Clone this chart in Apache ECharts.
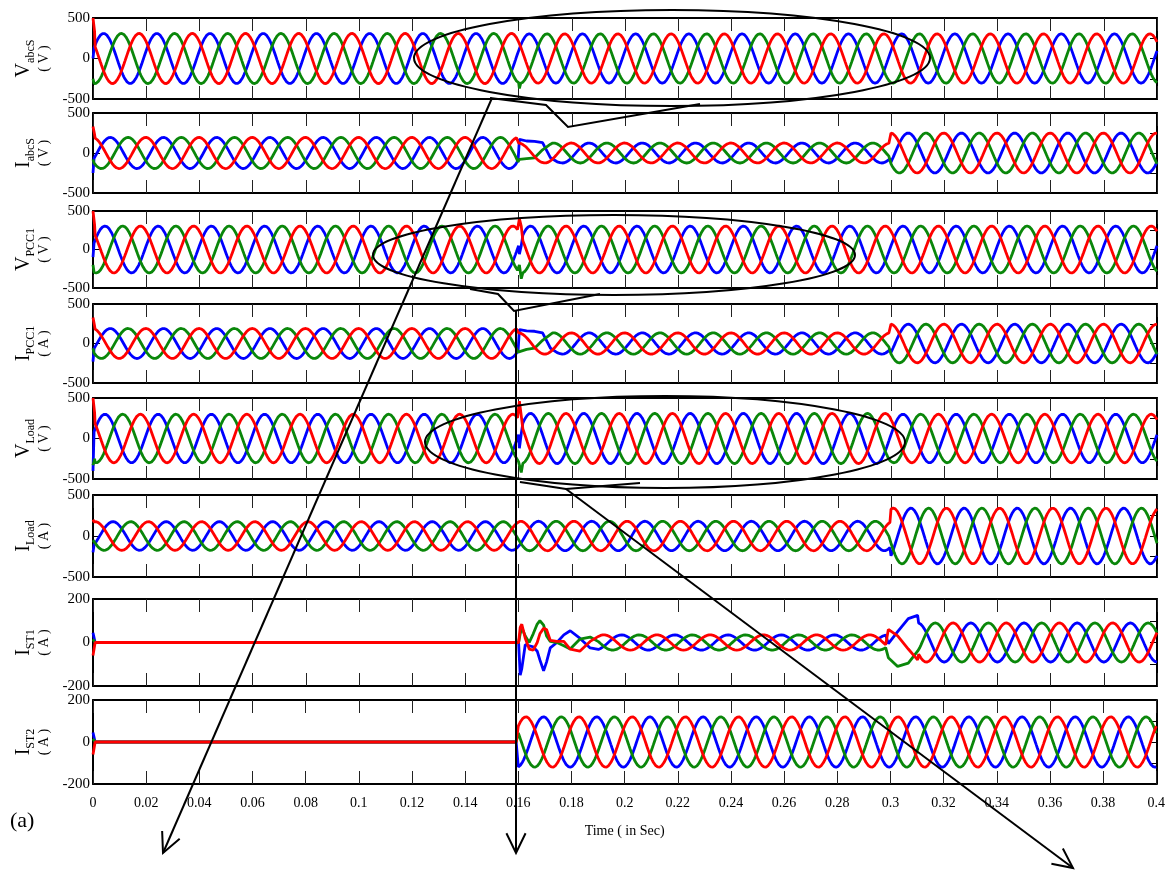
<!DOCTYPE html>
<html>
<head>
<meta charset="utf-8">
<script src="https://cdn.jsdelivr.net/npm/echarts@6/dist/echarts.min.js"></script>
<style>
  html, body { margin: 0; padding: 0; background: #fff; }
  #main { width: 1168px; height: 873px; }
</style>
</head>
<body>
<div id="main"></div>
<script>
// panel labels
var panelSymbol = ["V", "I", "V", "I", "V", "I", "I", "I"];
var panelSub = ["abcS", "abcS", "PCC1", "PCC1", "Load", "Load", "ST1", "ST2"];
var panelUnit = ["V", "V", "V", "A", "V", "A", "A", "A"];
var panelLimit = [500, 500, 500, 500, 500, 500, 200, 200];

// operating intervals (s): start of each segment
var segStart = [0, 0.16, 0.3];
var freq = 50;

// peak amplitude of each segment, and time of the phase-a (blue) peak
var ampVabcS = [310, 305, 305];
var peakVabcS = [0.004, 0.004, 0.004];
var ampIabcS = [195, 125, 250];
var peakIabcS = [0.0065, 0.0065, 0.0065];
var ampVpcc1 = [305, 305, 305];
var peakVpcc1 = [0.0045, 0.0045, 0.0045];
var ampIpcc1 = [190, 135, 245];
var peakIpcc1 = [0.0065, 0.0065, 0.0065];
var ampVload = [300, 310, 300];
var peakVload = [0.0045, 0.0045, 0.0045];
var ampIload = [175, 180, 340];
var peakIload = [0.0075, 0.0075, 0.0075];
var ampIst1 = [0, 35, 90];
var peakIst1 = [0, 0.0187, 0.01];
var ampIst2 = [0, 120, 120];
var peakIst2 = [0, 0.0095, 0.0095];

// transient samples: [t, a(blue), b(green), c(red)], null = steady wave
var trVabcS = [[0, 0, -250, 500], [0.0006, null, null, 330], [0.1603, null, -370, null]];
var trIabcS = [
  [0, -250, -80, 330], [0.0006, null, null, 230],
  [0.1598, -95, -110, null], [0.1603, 170, -80, null], [0.1630, 150, -70, null],
  [0.1660, 145, -60, null], [0.1690, 130, 40, null], [0.1720, -60, 110, null], [0.1745, -110, null, null]
];
var trVpcc1 = [[0, -100, -200, 500], [0.0006, null, null, 320], [0.1603, -60, -200, 400], [0.1610, 50, -380, 300]];
var trIpcc1 = [
  [0, -230, -60, 330], [0.0006, null, null, 220],
  [0.1598, -95, -110, null], [0.1603, 175, -90, null], [0.1630, 160, -75, null],
  [0.1660, 155, -60, null], [0.1690, 135, 40, null], [0.1720, -60, 115, null], [0.1745, -115, null, null]
];
var trVload = [[0, -400, -330, 500], [0.0006, null, -250, 320], [0.1603, -120, -300, 460], [0.1610, 60, -420, 280]];
var trIload = [[0, -200, -50, 200]];
var trIst1 = [
  [0, 45, 15, -60], [0.0008, 0, 0, 0],
  [0.1600, 0, 0, 0], [0.1606, -150, 40, 70], [0.1612, -120, 69, 84], [0.1625, -10, 30, 20],
  [0.1640, -15, 0, -30], [0.1655, -20, 40, -35], [0.1670, -40, 85, 0], [0.1680, -80, 100, 40],
  [0.1694, -130, 80, 65], [0.1705, -90, 30, 60], [0.1719, -25, 5, 10], [0.1744, 0, 0, 5],
  [0.1770, 35, -15, 5], [0.1794, 54, -30, -30], [0.1830, 20, 15, -40], [0.1869, -25, 25, 5],
  [0.1900, -32, 4, 28],
  [0.2990, -5, -70, 60], [0.3025, 50, -110, 30], [0.3065, 110, -95, -30], [0.3100, 125, -40, -80]
];
var trIst2 = [[0, 45, 15, -60], [0.0008, 0, 0, 0]];

var ampList = [ampVabcS, ampIabcS, ampVpcc1, ampIpcc1, ampVload, ampIload, ampIst1, ampIst2];
var peakList = [peakVabcS, peakIabcS, peakVpcc1, peakIpcc1, peakVload, peakIload, peakIst1, peakIst2];
var trList = [trVabcS, trIabcS, trVpcc1, trIpcc1, trVload, trIload, trIst1, trIst2];

// layout of the 8 stacked panels (px)
var panelTop = [18, 113, 211, 304, 398, 495, 599, 700];
var panelBottom = [99, 193, 288, 383, 479, 577, 686, 784];

var phaseColor = ["#0000ff", "#0a870a", "#ff0000"];
var serif = "Liberation Serif";

function steady(p, ph, t) {
  var s = 0;
  for (var k = 0; k < segStart.length; k++) if (t >= segStart[k] - 1e-9) s = k;
  var tp = peakList[p][s] + ph * (1 / freq) / 3;
  return ampList[p][s] * Math.cos(2 * Math.PI * freq * (t - tp));
}

function trace(p, ph) {
  // rows given for this phase
  var rows = trList[p].filter(function (r) { return r[1 + ph] !== null; })
    .map(function (r) { return [r[0], r[1 + ph]]; });
  // steady samples that fall between close transient rows are replaced
  var windows = [];
  rows.forEach(function (r, i) {
    if (i > 0 && r[0] - rows[i - 1][0] < 0.006) windows[windows.length - 1][1] = r[0];
    else windows.push([r[0], r[0]]);
  });
  var pts = [];
  for (var k = 0; k <= 1000; k++) {
    var t = k * 0.0004;
    var inside = windows.some(function (w) { return t >= w[0] - 2e-4 && t <= w[1] + 2e-4; });
    if (!inside) pts.push([t, steady(p, ph, t)]);
  }
  pts = pts.concat(rows);
  pts.sort(function (a, b) { return a[0] - b[0]; });
  return pts;
}

var grids = [], xAxes = [], yAxes = [], series = [];
for (var p = 0; p < 8; p++) {
  var last = p === 7;
  grids.push({ left: 93, right: 11, top: panelTop[p], height: panelBottom[p] - panelTop[p] });
  var xBase = {
    gridIndex: p, type: "value", min: 0, max: 0.4, interval: 0.02,
    axisLine: { show: true, onZero: false, lineStyle: { color: "#000", width: 2 } },
    axisTick: { show: true, inside: true, length: 13, lineStyle: { color: "#222", width: 1 } },
    splitLine: { show: false }
  };
  xAxes.push(Object.assign({}, xBase, {
    position: "bottom",
    axisLabel: {
      show: last, color: "#000", fontFamily: serif, fontSize: 14, margin: 12, hideOverlap: false,
      formatter: function (v) { return String(+v.toFixed(2)); }
    },
    name: last ? "Time ( in Sec)" : "", nameLocation: "middle", nameGap: 40,
    nameTextStyle: { color: "#000", fontFamily: serif, fontSize: 14 }
  }));
  xAxes.push(Object.assign({}, xBase, { position: "top", axisLabel: { show: false } }));
  var lim = panelLimit[p];
  yAxes.push({
    gridIndex: p, type: "value", min: -lim, max: lim, interval: lim, position: "left",
    axisLine: { show: true, onZero: false, lineStyle: { color: "#000", width: 2 } },
    axisTick: { show: true, inside: true, length: 7, lineStyle: { color: "#000" } },
    axisLabel: { color: "#000", fontFamily: serif, fontSize: 15, margin: 3, showMinLabel: true, showMaxLabel: true },
    splitLine: { show: false },
    name: "{m|" + panelSymbol[p] + "}{s|" + panelSub[p] + "}\n{u|( " + panelUnit[p] + " )}",
    nameLocation: "middle", nameRotate: 90, nameGap: 32,
    nameTextStyle: {
      rich: {
        m: { fontFamily: serif, fontSize: 20, color: "#000", lineHeight: 22 },
        s: { fontFamily: serif, fontSize: 12, color: "#000", lineHeight: 22, verticalAlign: "bottom", padding: [0, 0, -2, 0] },
        u: { fontFamily: serif, fontSize: 14, color: "#000", lineHeight: 20 }
      }
    }
  });
  yAxes.push({
    gridIndex: p, type: "value", min: -lim, max: lim, interval: lim / 2, position: "right",
    axisLine: { show: true, onZero: false, lineStyle: { color: "#000", width: 2 } },
    axisTick: { show: true, inside: true, length: 7, lineStyle: { color: "#000" } },
    axisLabel: { show: false },
    splitLine: { show: false }
  });
  for (var ph = 0; ph < 3; ph++) {
    series.push({
      type: "line", xAxisIndex: 2 * p, yAxisIndex: 2 * p, data: trace(p, ph),
      showSymbol: false, symbol: "none", silent: true,
      lineStyle: { color: phaseColor[ph], width: 2.8 }, z: 2 + ph
    });
  }
}

function arrow(x1, y1, x2, y2) {
  var a = Math.atan2(y2 - y1, x2 - x1), L = 22, w = 0.45;
  return [
    { type: "line", shape: { x1: x1, y1: y1, x2: x2, y2: y2 }, style: { stroke: "#000", lineWidth: 2 }, z: 100 },
    { type: "polyline", shape: { points: [
      [x2 - L * Math.cos(a - w), y2 - L * Math.sin(a - w)], [x2, y2],
      [x2 - L * Math.cos(a + w), y2 - L * Math.sin(a + w)]] },
      style: { stroke: "#000", lineWidth: 2, fill: null }, z: 100 }
  ];
}

var annot = [
  { type: "ellipse", shape: { cx: 672, cy: 58, rx: 258, ry: 48 }, style: { stroke: "#000", lineWidth: 2, fill: null }, z: 100 },
  { type: "polyline", shape: { points: [[490, 98], [546, 105], [568, 127], [700, 104]] }, style: { stroke: "#000", lineWidth: 2, fill: null }, z: 100 },
  { type: "ellipse", shape: { cx: 614, cy: 255, rx: 241, ry: 40 }, style: { stroke: "#000", lineWidth: 2, fill: null }, z: 100 },
  { type: "polyline", shape: { points: [[470, 289], [498, 294], [514, 311], [600, 294]] }, style: { stroke: "#000", lineWidth: 2, fill: null }, z: 100 },
  { type: "ellipse", shape: { cx: 665, cy: 442, rx: 240, ry: 46 }, style: { stroke: "#000", lineWidth: 2, fill: null }, z: 100 },
  { type: "polyline", shape: { points: [[520, 482], [540, 485], [566, 489], [640, 483]] }, style: { stroke: "#000", lineWidth: 2, fill: null }, z: 100 },
  { type: "text", left: 10, top: 810, style: { text: "(a)", fontFamily: serif, fontSize: 22, fill: "#000" } }
].concat(arrow(492, 98, 163, 853), arrow(516, 311, 516, 853), arrow(566, 489, 1073, 868));

var myChart = echarts.init(document.getElementById("main"));
myChart.setOption({
  animation: false,
  backgroundColor: "#fff",
  grid: grids,
  xAxis: xAxes,
  yAxis: yAxes,
  series: series,
  graphic: annot
});
</script>
</body>
</html>
